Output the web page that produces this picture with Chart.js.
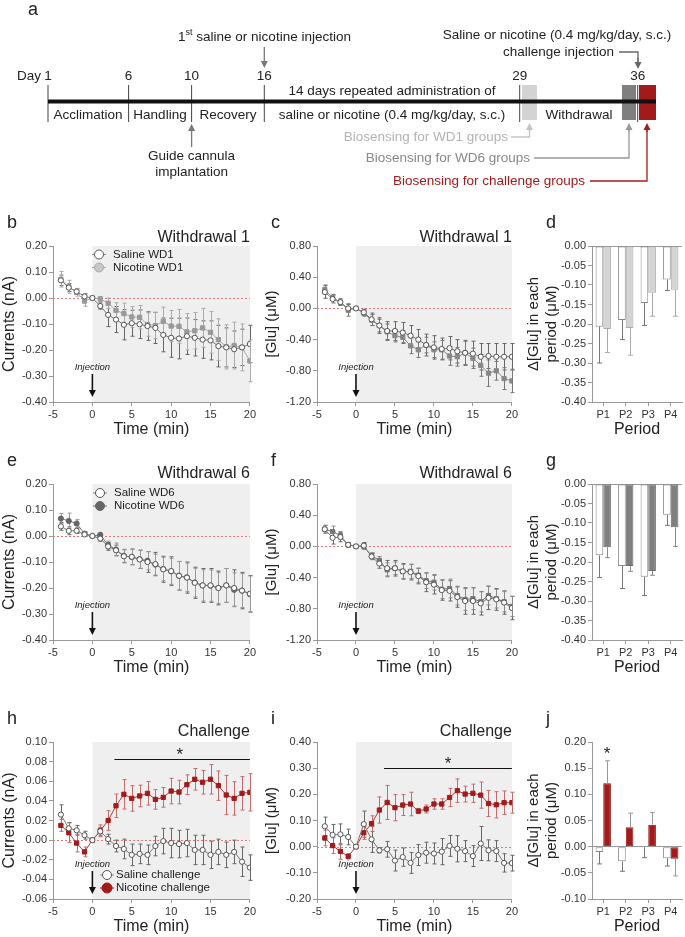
<!DOCTYPE html>
<html>
<head>
<meta charset="utf-8">
<script src="https://cdn.jsdelivr.net/npm/chart.js@4.4.1/dist/chart.umd.min.js"></script>
<style>
  html, body { margin: 0; padding: 0; background: #fff; }
  body { width: 685px; height: 937px; position: relative; overflow: hidden; }
  canvas { position: absolute; }
</style>
</head>
<body>
<canvas id="panelA" width="685" height="200" style="left:0;top:0"></canvas>
<canvas id="panelB" width="258" height="235" style="left:0;top:205px"></canvas>
<canvas id="panelC" width="262" height="235" style="left:258px;top:205px"></canvas>
<canvas id="panelD" width="165" height="235" style="left:520px;top:205px"></canvas>
<canvas id="panelE" width="258" height="235" style="left:0;top:445px"></canvas>
<canvas id="panelF" width="262" height="235" style="left:258px;top:445px"></canvas>
<canvas id="panelG" width="165" height="235" style="left:520px;top:445px"></canvas>
<canvas id="panelH" width="258" height="237" style="left:0;top:700px"></canvas>
<canvas id="panelI" width="262" height="237" style="left:258px;top:700px"></canvas>
<canvas id="panelJ" width="165" height="237" style="left:520px;top:700px"></canvas>
<script>
// ---- data ----
const minutes = [-4, -3, -2, -1, 0, 1, 2, 3, 4, 5, 6, 7, 8, 9, 10, 11, 12, 13, 14, 15, 16, 17, 18, 19, 20];
const timeTicks = [-5, 0, 5, 10, 15, 20];
const periods = ['P1', 'P2', 'P3', 'P4'];

const currentTicks = [-0.4, -0.3, -0.2, -0.1, 0, 0.1, 0.2];
const gluTicks = [-1.2, -0.8, -0.4, 0, 0.4, 0.8];
const periodTicks = [-0.4, -0.35, -0.3, -0.25, -0.2, -0.15, -0.1, -0.05, 0];
const challengeCurrentTicks = [-0.06, -0.04, -0.02, 0, 0.02, 0.04, 0.06, 0.08, 0.1];
const challengeGluTicks = [-0.2, -0.1, 0, 0.1, 0.2, 0.3, 0.4];
const challengePeriodTicks = [-0.1, -0.05, 0, 0.05, 0.1, 0.15, 0.2];

// b: currents, withdrawal day 1
const salineWD1Current = [0.068, 0.040, 0.025, 0.006, 0, -0.031, -0.065, -0.083, -0.103, -0.097, -0.101, -0.108, -0.115, -0.142, -0.153, -0.156, -0.147, -0.153, -0.160, -0.163, -0.185, -0.190, -0.197, -0.190, -0.177];
const salineWD1CurrentErr = [0.02, 0.015, 0.01, 0.01, 0, 0.012, 0.045, 0.05, 0.058, 0.05, 0.055, 0.055, 0.06, 0.065, 0.075, 0.078, 0.07, 0.07, 0.072, 0.075, 0.08, 0.075, 0.07, 0.07, 0.072];
const nicotineWD1Current = [0.072, 0.043, 0.022, -0.012, 0, -0.004, -0.020, -0.048, -0.060, -0.073, -0.074, -0.102, -0.106, -0.090, -0.108, -0.109, -0.130, -0.126, -0.115, -0.132, -0.160, -0.188, -0.183, -0.190, -0.242];
const nicotineWD1CurrentErr = [0.03, 0.025, 0.015, 0.02, 0, 0.01, 0.02, 0.03, 0.04, 0.04, 0.045, 0.045, 0.05, 0.055, 0.06, 0.065, 0.07, 0.07, 0.075, 0.08, 0.08, 0.085, 0.09, 0.09, 0.08];

// c: glutamate, withdrawal day 1
const salineWD1Glu = [0.21, 0.12, 0.08, 0.00, 0, -0.05, -0.14, -0.22, -0.29, -0.29, -0.31, -0.35, -0.40, -0.47, -0.50, -0.52, -0.51, -0.55, -0.57, -0.58, -0.62, -0.61, -0.62, -0.62, -0.62];
const salineWD1GluErr = [0.08, 0.05, 0.04, 0.05, 0, 0.04, 0.08, 0.1, 0.12, 0.12, 0.13, 0.13, 0.13, 0.14, 0.15, 0.14, 0.15, 0.15, 0.16, 0.16, 0.17, 0.16, 0.17, 0.17, 0.17];
const nicotineWD1Glu = [0.24, 0.14, 0.08, -0.02, 0, -0.06, -0.15, -0.22, -0.30, -0.35, -0.37, -0.48, -0.53, -0.47, -0.53, -0.53, -0.61, -0.62, -0.57, -0.64, -0.73, -0.83, -0.80, -0.90, -0.93];
const nicotineWD1GluErr = [0.06, 0.04, 0.04, 0.08, 0, 0.04, 0.07, 0.08, 0.1, 0.08, 0.08, 0.1, 0.1, 0.1, 0.1, 0.12, 0.12, 0.12, 0.15, 0.13, 0.14, 0.17, 0.12, 0.14, 0.15];

// d: per-period change, withdrawal day 1
const salineWD1Period = [-0.207, -0.190, -0.146, -0.086];
const salineWD1PeriodErr = [0.093, 0.05, 0.058, 0.028];
const nicotineWD1Period = [-0.213, -0.210, -0.120, -0.112];
const nicotineWD1PeriodErr = [0.06, 0.07, 0.06, 0.068];

// e: currents, withdrawal day 6
const salineWD6Current = [0.037, 0.020, 0.020, 0.006, 0, -0.010, -0.040, -0.055, -0.078, -0.080, -0.090, -0.100, -0.108, -0.128, -0.135, -0.153, -0.160, -0.180, -0.190, -0.190, -0.200, -0.190, -0.200, -0.210, -0.222];
const salineWD6CurrentErr = [0.015, 0.015, 0.01, 0.008, 0, 0.01, 0.015, 0.02, 0.025, 0.03, 0.035, 0.04, 0.045, 0.05, 0.055, 0.055, 0.06, 0.06, 0.065, 0.065, 0.065, 0.065, 0.07, 0.07, 0.07];
const nicotineWD6Current = [0.067, 0.058, 0.048, 0.009, 0, 0.004, -0.035, -0.052, -0.076, -0.081, -0.089, -0.095, -0.110, -0.127, -0.136, -0.153, -0.159, -0.179, -0.190, -0.191, -0.200, -0.190, -0.207, -0.210, -0.224];
const nicotineWD6CurrentErr = [0.02, 0.03, 0.015, 0.008, 0, 0.01, 0.015, 0.025, 0.025, 0.03, 0.035, 0.035, 0.04, 0.045, 0.05, 0.055, 0.055, 0.055, 0.06, 0.06, 0.06, 0.065, 0.065, 0.065, 0.07];

// f: glutamate, withdrawal day 6
const salineWD6Glu = [0.22, 0.11, 0.12, 0.02, 0, 0.01, -0.13, -0.22, -0.28, -0.28, -0.32, -0.33, -0.38, -0.46, -0.49, -0.56, -0.57, -0.65, -0.70, -0.70, -0.73, -0.66, -0.68, -0.72, -0.79];
const salineWD6GluErr = [0.05, 0.08, 0.06, 0.03, 0, 0.04, 0.04, 0.06, 0.1, 0.1, 0.1, 0.1, 0.1, 0.12, 0.12, 0.13, 0.13, 0.13, 0.17, 0.17, 0.15, 0.15, 0.14, 0.15, 0.15];
const nicotineWD6Glu = [0.22, 0.19, 0.14, 0.02, 0, 0.00, -0.12, -0.18, -0.30, -0.28, -0.32, -0.32, -0.37, -0.44, -0.46, -0.55, -0.54, -0.63, -0.68, -0.67, -0.71, -0.63, -0.67, -0.71, -0.77];
const nicotineWD6GluErr = [0.05, 0.07, 0.05, 0.03, 0, 0.04, 0.04, 0.05, 0.09, 0.08, 0.09, 0.09, 0.09, 0.1, 0.1, 0.12, 0.12, 0.12, 0.14, 0.14, 0.13, 0.12, 0.12, 0.13, 0.13];

// g: per-period change, withdrawal day 6
const salineWD6Period = [-0.183, -0.210, -0.238, -0.079];
const salineWD6PeriodErr = [0.057, 0.058, 0.048, 0.027];
const nicotineWD6Period = [-0.162, -0.210, -0.223, -0.111];
const nicotineWD6PeriodErr = [0.027, 0.014, 0.011, 0.049];

// h: currents, challenge
const salineChallengeCurrent = [0.026, 0.012, 0.010, 0.005, 0, 0.009, 0.001, -0.006, -0.009, -0.015, -0.014, -0.015, -0.006, -0.001, -0.003, -0.004, -0.003, -0.010, -0.010, -0.015, -0.012, -0.015, -0.012, -0.022, -0.028];
const salineChallengeCurrentErr = [0.01, 0.006, 0.005, 0.004, 0, 0.004, 0.005, 0.006, 0.01, 0.011, 0.01, 0.01, 0.01, 0.013, 0.015, 0.014, 0.014, 0.015, 0.015, 0.014, 0.013, 0.013, 0.012, 0.015, 0.013];
const nicotineChallengeCurrent = [0.015, 0.0075, -0.003, -0.012, 0, 0.0095, 0.020, 0.035, 0.0467, 0.0425, 0.045, 0.0477, 0.0415, 0.0436, 0.050, 0.049, 0.0565, 0.062, 0.059, 0.062, 0.0555, 0.046, 0.0425, 0.0477, 0.0487];
const nicotineChallengeCurrentErr = [0.006, 0.01, 0.009, 0.005, 0, 0.006, 0.01, 0.012, 0.015, 0.013, 0.011, 0.012, 0.01, 0.01, 0.013, 0.012, 0.01, 0.011, 0.012, 0.015, 0.015, 0.02, 0.017, 0.017, 0.019];

// i: glutamate, challenge
const salineChallengeGlu = [0.078, 0.045, 0.047, 0.037, 0, 0.086, 0.028, -0.014, -0.010, -0.053, -0.040, -0.062, -0.032, -0.023, -0.026, -0.019, 0.003, -0.008, -0.017, -0.036, 0.012, -0.014, -0.017, -0.062, -0.063];
const salineChallengeGluErr = [0.035, 0.04, 0.04, 0.03, 0, 0.05, 0.05, 0.01, 0.03, 0.04, 0.035, 0.04, 0.04, 0.04, 0.04, 0.05, 0.04, 0.05, 0.04, 0.04, 0.065, 0.04, 0.04, 0.035, 0.03];
const nicotineChallengeGlu = [0.033, 0.004, -0.018, -0.037, 0, 0.053, 0.088, 0.140, 0.169, 0.149, 0.159, 0.163, 0.136, 0.144, 0.163, 0.163, 0.188, 0.214, 0.201, 0.204, 0.197, 0.165, 0.160, 0.168, 0.168];
const nicotineChallengeGluErr = [0.03, 0.03, 0.03, 0.01, 0, 0.025, 0.03, 0.05, 0.065, 0.05, 0.04, 0.045, 0.01, 0.015, 0.02, 0.02, 0.035, 0.045, 0.03, 0.035, 0.05, 0.05, 0.05, 0.045, 0.04];

// j: per-period change, challenge
const salineChallengePeriod = [-0.010, -0.028, -0.001, -0.022];
const salineChallengePeriodErr = [0.023, 0.019, 0.02, 0.015];
const nicotineChallengePeriod = [0.121, 0.037, 0.042, -0.023];
const nicotineChallengePeriodErr = [0.043, 0.027, 0.023, 0.033];

// timeline (panel a)
const dayLabels = ['1', '6', '10', '16', '29', '36'];
const phaseLabels = ['Acclimation', 'Handling', 'Recovery', 'saline or nicotine (0.4 mg/kg/day, s.c.)', 'Withdrawal'];

// ---- styling ----
const FONT = '"Liberation Sans", Arial, Helvetica, sans-serif';
const RED = '#a31a1a';
Chart.defaults.font.family = FONT;
Chart.defaults.color = '#333';
Chart.defaults.animation = false;

function label(ctx, s, x, y, size, opt = {}) {
    ctx.save();
    ctx.font = (opt.italic ? 'italic ' : '') + size + 'px ' + FONT;
    ctx.fillStyle = opt.color || '#222';
    ctx.textAlign = opt.align || 'center';
    ctx.textBaseline = 'middle';
    if (opt.rotate) {
        ctx.translate(x, y);
        ctx.rotate(-Math.PI / 2);
        ctx.fillText(s, 0, 0);
    } else {
        ctx.fillText(s, x, y);
    }
    ctx.restore();
}

function arrow(ctx, x1, y1, x2, y2, color, width) {
    const ang = Math.atan2(y2 - y1, x2 - x1);
    ctx.save();
    ctx.strokeStyle = color;
    ctx.fillStyle = color;
    ctx.lineWidth = width || 1.3;
    ctx.beginPath();
    ctx.moveTo(x1, y1);
    ctx.lineTo(x2 - Math.cos(ang) * 4, y2 - Math.sin(ang) * 4);
    ctx.stroke();
    ctx.beginPath();
    ctx.moveTo(x2, y2);
    ctx.lineTo(x2 - Math.cos(ang) * 7 + Math.sin(ang) * 3.5, y2 - Math.sin(ang) * 7 - Math.cos(ang) * 3.5);
    ctx.lineTo(x2 - Math.cos(ang) * 7 - Math.sin(ang) * 3.5, y2 - Math.sin(ang) * 7 + Math.cos(ang) * 3.5);
    ctx.closePath();
    ctx.fill();
    ctx.restore();
}

function polyline(ctx, pts, color, width) {
    ctx.save();
    ctx.strokeStyle = color;
    ctx.lineWidth = width || 1.3;
    ctx.beginPath();
    pts.forEach((p, i) => i ? ctx.lineTo(p[0], p[1]) : ctx.moveTo(p[0], p[1]));
    ctx.stroke();
    ctx.restore();
}

// ---- panel a: experimental timeline ----
function drawTimeline(ctx) {
    const dayX = [48, 128.6, 191.6, 264.3, 519.7, 637.7];
    const phaseX = [88, 160, 228, 392, 579];
    const fs = 13.5;
    label(ctx, 'a', 28, 10, 18, { align: 'left' });

    // withdrawal testing boxes
    ctx.fillStyle = '#d3d3d3'; ctx.fillRect(522, 85, 15, 35);
    ctx.fillStyle = '#7f7f7f'; ctx.fillRect(622, 85, 14, 35);
    ctx.fillStyle = RED; ctx.fillRect(639, 85, 16, 35);

    dayX.forEach(x => polyline(ctx, [[x, 85], [x, 122]], '#444', 1));
    polyline(ctx, [[655.5, 85], [655.5, 120]], '#444', 1);
    polyline(ctx, [[48, 101.5], [656, 101.5]], '#111', 4);

    dayLabels.forEach((d, i) => label(ctx, d, dayX[i], 76, fs));
    label(ctx, 'Day', dayX[0] - 7, 76, fs, { align: 'right' });
    phaseLabels.forEach((p, i) => label(ctx, p, phaseX[i], 115, fs));
    label(ctx, '14 days repeated administration of', 392, 91, fs);

    // 1st injection with superscript
    ctx.save();
    ctx.font = fs + 'px ' + FONT;
    const w1 = ctx.measureText('1').width;
    const rest = ' saline or nicotine injection';
    const wr = ctx.measureText(rest).width;
    ctx.font = '9px ' + FONT;
    const ws = ctx.measureText('st').width;
    ctx.restore();
    const sx = 264.5 - (w1 + ws + wr) / 2;
    label(ctx, '1', sx, 37, fs, { align: 'left' });
    label(ctx, 'st', sx + w1, 33, 9, { align: 'left' });
    label(ctx, rest, sx + w1 + ws, 37, fs, { align: 'left' });
    arrow(ctx, 264.3, 47, 264.3, 68, '#777');

    arrow(ctx, 191.6, 147, 191.6, 124, '#777');
    label(ctx, 'Guide cannula', 191.6, 156, fs);
    label(ctx, 'implantation', 191.6, 172, fs);

    label(ctx, 'Saline or nicotine (0.4 mg/kg/day, s.c.)', 557, 35, fs);
    label(ctx, 'challenge injection', 614, 52, fs, { align: 'right' });
    polyline(ctx, [[619, 52], [638, 52], [638, 62]], '#666');
    arrow(ctx, 638, 58, 638, 69, '#666');

    label(ctx, 'Biosensing for WD1 groups', 508, 137, fs, { align: 'right', color: '#b3b3b3' });
    polyline(ctx, [[511, 137], [529.5, 137], [529.5, 130]], '#c3c3c3');
    arrow(ctx, 529.5, 132, 529.5, 123, '#c3c3c3');

    label(ctx, 'Biosensing for WD6 groups', 530, 158, fs, { align: 'right', color: '#888' });
    polyline(ctx, [[534, 158], [629, 158], [629, 130]], '#999');
    arrow(ctx, 629, 132, 629, 123, '#999');

    label(ctx, 'Biosensing for challenge groups', 585, 181, fs, { align: 'right', color: RED });
    polyline(ctx, [[590, 181], [647, 181], [647, 130]], RED);
    arrow(ctx, 647, 132, 647, 123, RED);
}

new Chart(document.getElementById('panelA'), {
    type: 'scatter',
    data: { datasets: [] },
    options: {
        responsive: false,
        devicePixelRatio: 1,
        scales: { x: { display: false }, y: { display: false } },
        plugins: { legend: { display: false }, tooltip: { enabled: false } }
    },
    plugins: [{ id: 'timeline', afterDraw(chart) { drawTimeline(chart.ctx); } }]
});

// ---- shared plugin for panels b-j ----
function drawLegendMarker(ctx, x, y, item) {
    polyline(ctx, [[x - 7, y], [x + 7, y]], item.line, 1);
    ctx.save();
    ctx.beginPath();
    ctx.arc(x, y, item.r, 0, Math.PI * 2);
    ctx.fillStyle = item.fill;
    ctx.fill();
    ctx.strokeStyle = item.edge;
    ctx.lineWidth = 1;
    ctx.stroke();
    ctx.restore();
}

const panelPlugin = {
    id: 'panel',
    beforeDraw(chart, args, o) {
        const { ctx, chartArea: a, scales: { x } } = chart;
        if (o.shade) {
            const x0 = x.getPixelForValue(0);
            ctx.save();
            ctx.fillStyle = '#efefef';
            ctx.fillRect(x0, a.top, a.right - x0, a.bottom - a.top);
            ctx.restore();
        }
    },
    beforeDatasetsDraw(chart, args, o) {
        const { ctx, chartArea: a, scales: { y } } = chart;
        if (o.zeroLine) {
            const y0 = Math.round(y.getPixelForValue(0)) + 0.5;
            ctx.save();
            ctx.strokeStyle = '#e07a7a';
            ctx.setLineDash([2, 2]);
            ctx.lineWidth = 1;
            ctx.beginPath();
            ctx.moveTo(a.left, y0);
            ctx.lineTo(a.right, y0);
            ctx.stroke();
            ctx.restore();
        }
        if (o.kind !== 'line') return;
        chart.data.datasets.forEach((ds, di) => {
            const meta = chart.getDatasetMeta(di);
            ctx.save();
            ctx.strokeStyle = ds.errColor;
            ctx.lineWidth = 1;
            meta.data.forEach((pt, i) => {
                const v = ds.data[i].y, e = ds.err[i];
                if (!e) return;
                const px = Math.round(pt.x) + 0.5;
                const y1 = y.getPixelForValue(v + e), y2 = y.getPixelForValue(v - e);
                ctx.beginPath();
                ctx.moveTo(px, y1); ctx.lineTo(px, y2);
                ctx.moveTo(px - 2, y1); ctx.lineTo(px + 2, y1);
                ctx.moveTo(px - 2, y2); ctx.lineTo(px + 2, y2);
                ctx.stroke();
            });
            ctx.restore();
        });
    },
    afterDatasetsDraw(chart, args, o) {
        if (o.kind !== 'bar') return;
        const { ctx, scales: { y } } = chart;
        chart.data.datasets.forEach((ds, di) => {
            const meta = chart.getDatasetMeta(di);
            ctx.save();
            ctx.strokeStyle = ds.errColor;
            ctx.lineWidth = 1;
            meta.data.forEach((bar, i) => {
                const v = ds.data[i], dir = v > 0 ? 1 : -1;
                const y1 = y.getPixelForValue(v), y2 = y.getPixelForValue(v + dir * ds.err[i]);
                const bx = Math.round(bar.x) + 0.5;
                ctx.beginPath();
                ctx.moveTo(bx, y1); ctx.lineTo(bx, y2);
                ctx.moveTo(bx - 2.5, y2); ctx.lineTo(bx + 2.5, y2);
                ctx.stroke();
            });
            ctx.restore();
        });
    },
    afterDraw(chart, args, o) {
        const { ctx, chartArea: a, scales: { x } } = chart;
        const midY = (a.top + a.bottom) / 2;
        label(ctx, o.letter, a.left + o.letterDX, a.top - 23, 18, { align: 'left' });
        if (o.title) label(ctx, o.title, a.right, a.top + o.titleDY, 16, { align: 'right' });
        label(ctx, o.xTitle, (a.left + a.right) / 2, a.bottom + 28, 16);
        o.yTitle.forEach((t, k) => label(ctx, t, a.left + o.yTitleDX[k], midY, o.yTitleSize, { rotate: true }));
        if (o.injection) {
            const x0 = x.getPixelForValue(0);
            label(ctx, 'Injection', x0, a.bottom - 35, 9.5, { italic: true });
            arrow(ctx, x0, a.bottom - 28, x0, a.bottom - 5, '#111', 1.6);
        }
        if (o.legend) {
            o.legend.items.forEach((item, k) => {
                const ly = a.top + o.legend.dy + k * 13;
                const lx = a.left + o.legend.dx;
                drawLegendMarker(ctx, lx, ly, item);
                label(ctx, item.text, lx + o.legend.gap, ly, 11.5, { align: 'left' });
            });
        }
        if (o.sig) {
            const x1 = x.getPixelForValue(o.sig.from), x2 = x.getPixelForValue(o.sig.to);
            const ly = Math.round(a.top + o.sig.dy) + 0.5;
            polyline(ctx, [[x1, ly], [x2, ly]], '#111', 1.2);
            label(ctx, '*', x.getPixelForValue(o.sig.star), ly - 4, 17);
        }
        if (o.barStar) {
            const bar = chart.getDatasetMeta(o.barStar.dataset).data[o.barStar.index];
            label(ctx, '*', bar.x, a.top + 12, 17);
        }
    }
};

const AXIS = '#999';
function tickList(list) {
    return scale => { scale.ticks = list.map(v => ({ value: v })); };
}

function timePanel(id, geo, yMin, yMax, yTicks, series, panel) {
    return new Chart(document.getElementById(id), {
        type: 'line',
        data: {
            datasets: series.map(s => ({
                label: s.label,
                data: minutes.map((t, i) => ({ x: t, y: s.values[i] })),
                err: s.err,
                errColor: s.errColor,
                borderColor: s.line,
                borderWidth: 1,
                pointStyle: s.shape,
                pointRadius: s.radius,
                pointBackgroundColor: s.fill,
                pointBorderColor: s.edge,
                pointBorderWidth: 1,
                tension: 0
            }))
        },
        options: {
            responsive: false,
            devicePixelRatio: 1,
            layout: { padding: { top: geo.padTop, right: geo.padRight, left: 0, bottom: 0 } },
            scales: {
                x: {
                    type: 'linear', min: -5, max: 20,
                    afterBuildTicks: tickList(timeTicks),
                    afterFit: s => { s.height = geo.xHeight; },
                    ticks: { font: { size: 11 }, color: '#333', padding: 2, maxRotation: 0 },
                    grid: { drawOnChartArea: false, tickLength: 4, color: AXIS },
                    border: { color: AXIS }
                },
                y: {
                    min: yMin, max: yMax,
                    afterBuildTicks: tickList(yTicks),
                    afterFit: s => { s.width = geo.yWidth; },
                    ticks: { font: { size: 11 }, color: '#333', padding: 2, callback: v => v.toFixed(2) },
                    grid: { drawOnChartArea: false, tickLength: 4, color: AXIS },
                    border: { color: AXIS }
                }
            },
            plugins: {
                legend: { display: false },
                tooltip: { enabled: false },
                panel: Object.assign({ kind: 'line', shade: true, zeroLine: true, injection: true, xTitle: 'Time (min)' }, panel)
            }
        },
        plugins: [panelPlugin]
    });
}

function barPanel(id, geo, yMin, yMax, yTicks, series, panel) {
    return new Chart(document.getElementById(id), {
        type: 'bar',
        data: {
            labels: periods,
            datasets: series.map(s => ({
                label: s.label,
                data: s.values,
                err: s.err,
                errColor: s.errColor,
                backgroundColor: s.fill,
                borderColor: s.edge,
                borderWidth: 1,
                borderSkipped: false,
                categoryPercentage: 0.68,
                barPercentage: 1
            }))
        },
        options: {
            responsive: false,
            devicePixelRatio: 1,
            layout: { padding: { top: geo.padTop, right: geo.padRight, left: 0, bottom: 0 } },
            scales: {
                x: {
                    afterFit: s => { s.height = geo.xHeight; },
                    ticks: { font: { size: 11 }, color: '#333', padding: 2 },
                    grid: { drawOnChartArea: false, offset: false, tickLength: 4, color: AXIS },
                    border: { color: AXIS }
                },
                y: {
                    min: yMin, max: yMax,
                    afterBuildTicks: tickList(yTicks),
                    afterFit: s => { s.width = geo.yWidth; },
                    ticks: { font: { size: 11 }, color: '#333', padding: 2, callback: v => v.toFixed(2) },
                    grid: {
                        tickLength: 4, tickColor: AXIS,
                        color: c => (c.tick && Math.abs(c.tick.value) < 1e-9) ? AXIS : 'rgba(0,0,0,0)'
                    },
                    border: { color: AXIS }
                }
            },
            plugins: {
                legend: { display: false },
                tooltip: { enabled: false },
                panel: Object.assign({ kind: 'bar', xTitle: 'Period', yTitle: ['\u0394[Glu] in each', 'period (\u03bcM)'], yTitleDX: [-58, -40], yTitleSize: 15, letterDX: -46 }, panel)
            }
        },
        plugins: [panelPlugin]
    });
}

// column / row geometry
const col1 = { yWidth: 53, padRight: 8 };
const col2 = { yWidth: 59, padRight: 8 };
const col3 = { yWidth: 72, padRight: 3 };
const row1 = { padTop: 41, xHeight: 38 };
const row2 = { padTop: 39, xHeight: 40 };
const row3 = { padTop: 42, xHeight: 38 };
const geo = (c, r) => Object.assign({}, c, r);

const salineStyle = { shape: 'circle', radius: 2.6, fill: '#fff', edge: '#555', line: '#777', errColor: '#666' };
const col1Text = { letterDX: -46, yTitle: ['Currents (nA)'], yTitleDX: [-43], yTitleSize: 16 };
const col2Text = { letterDX: -46, yTitle: ['[Glu] (\u03bcM)'], yTitleDX: [-45], yTitleSize: 15 };

// b
timePanel('panelB', geo(col1, row1), -0.4, 0.2, currentTicks, [
    Object.assign({ label: 'Saline WD1', values: salineWD1Current, err: salineWD1CurrentErr }, salineStyle),
    { label: 'Nicotine WD1', values: nicotineWD1Current, err: nicotineWD1CurrentErr, shape: 'rect', radius: 3, fill: '#999', edge: '#999', line: '#aaa', errColor: '#aaa' }
], Object.assign({ letter: 'b', title: 'Withdrawal 1', titleDY: -8, legend: { dx: 46, dy: 8.5, gap: 14, items: [
    { text: 'Saline WD1', fill: '#fff', edge: '#555', line: '#888', r: 4.5 },
    { text: 'Nicotine WD1', fill: '#c8c8c8', edge: '#aaa', line: '#aaa', r: 4.5 }
] } }, col1Text));

// c
timePanel('panelC', geo(col2, row1), -1.2, 0.8, gluTicks, [
    Object.assign({ label: 'Saline WD1', values: salineWD1Glu, err: salineWD1GluErr }, salineStyle),
    { label: 'Nicotine WD1', values: nicotineWD1Glu, err: nicotineWD1GluErr, shape: 'rect', radius: 3, fill: '#888', edge: '#888', line: '#888', errColor: '#777' }
], Object.assign({ letter: 'c', title: 'Withdrawal 1', titleDY: -8 }, col2Text));

// d
barPanel('panelD', geo(col3, row1), -0.4, 0, periodTicks, [
    { label: 'Saline WD1', values: salineWD1Period, err: salineWD1PeriodErr, fill: '#fff', edge: '#888', errColor: '#777' },
    { label: 'Nicotine WD1', values: nicotineWD1Period, err: nicotineWD1PeriodErr, fill: '#d4d4d4', edge: '#aaa', errColor: '#aaa' }
], { letter: 'd' });

// e
timePanel('panelE', geo(col1, row2), -0.4, 0.2, currentTicks, [
    Object.assign({ label: 'Saline WD6', values: salineWD6Current, err: salineWD6CurrentErr }, salineStyle),
    { label: 'Nicotine WD6', values: nicotineWD6Current, err: nicotineWD6CurrentErr, shape: 'circle', radius: 2.6, fill: '#666', edge: '#666', line: '#777', errColor: '#999' }
], Object.assign({ letter: 'e', title: 'Withdrawal 6', titleDY: -10, legend: { dx: 47, dy: 9, gap: 14, items: [
    { text: 'Saline WD6', fill: '#fff', edge: '#555', line: '#888', r: 4.5 },
    { text: 'Nicotine WD6', fill: '#666', edge: '#666', line: '#777', r: 4.5 }
] } }, col1Text));

// f
timePanel('panelF', geo(col2, row2), -1.2, 0.8, gluTicks, [
    Object.assign({ label: 'Saline WD6', values: salineWD6Glu, err: salineWD6GluErr }, salineStyle),
    { label: 'Nicotine WD6', values: nicotineWD6Glu, err: nicotineWD6GluErr, shape: 'rect', radius: 3, fill: '#777', edge: '#777', line: '#777', errColor: '#888' }
], Object.assign({ letter: 'f', title: 'Withdrawal 6', titleDY: -10 }, col2Text));

// g
barPanel('panelG', geo(col3, row2), -0.4, 0, periodTicks, [
    { label: 'Saline WD6', values: salineWD6Period, err: salineWD6PeriodErr, fill: '#fff', edge: '#888', errColor: '#777' },
    { label: 'Nicotine WD6', values: nicotineWD6Period, err: nicotineWD6PeriodErr, fill: '#7f7f7f', edge: '#6a6a6a', errColor: '#888' }
], { letter: 'g' });

// h
timePanel('panelH', geo(col1, row3), -0.06, 0.1, challengeCurrentTicks, [
    Object.assign({ label: 'Saline challenge', values: salineChallengeCurrent, err: salineChallengeCurrentErr }, salineStyle),
    { label: 'Nicotine challenge', values: nicotineChallengeCurrent, err: nicotineChallengeCurrentErr, shape: 'rect', radius: 3, fill: RED, edge: RED, line: '#b03a3a', errColor: '#c36a6a' }
], Object.assign({ letter: 'h', title: 'Challenge', titleDY: -10,
    sig: { from: 2.8, to: 20, dy: 17, star: 11.1 },
    legend: { dx: 54, dy: 133, gap: 9, items: [
        { text: 'Saline challenge', fill: '#fff', edge: '#555', line: '#888', r: 4.5 },
        { text: 'Nicotine challenge', fill: RED, edge: RED, line: RED, r: 5 }
    ] } }, col1Text));

// i
timePanel('panelI', geo(col2, row3), -0.2, 0.4, challengeGluTicks, [
    Object.assign({ label: 'Saline challenge', values: salineChallengeGlu, err: salineChallengeGluErr }, salineStyle),
    { label: 'Nicotine challenge', values: nicotineChallengeGlu, err: nicotineChallengeGluErr, shape: 'rect', radius: 3, fill: RED, edge: RED, line: '#b03a3a', errColor: '#c36a6a' }
], Object.assign({ letter: 'i', title: 'Challenge', titleDY: -10,
    sig: { from: 3.6, to: 20, dy: 26, star: 11.8 } }, col2Text));

// j
barPanel('panelJ', geo(col3, row3), -0.1, 0.2, challengePeriodTicks, [
    { label: 'Saline challenge', values: salineChallengePeriod, err: salineChallengePeriodErr, fill: '#fff', edge: '#888', errColor: '#777' },
    { label: 'Nicotine challenge', values: nicotineChallengePeriod, err: nicotineChallengePeriodErr, fill: RED, edge: '#8a1010', errColor: '#999' }
], { letter: 'j', barStar: { dataset: 1, index: 0 } });
</script>
</body>
</html>
